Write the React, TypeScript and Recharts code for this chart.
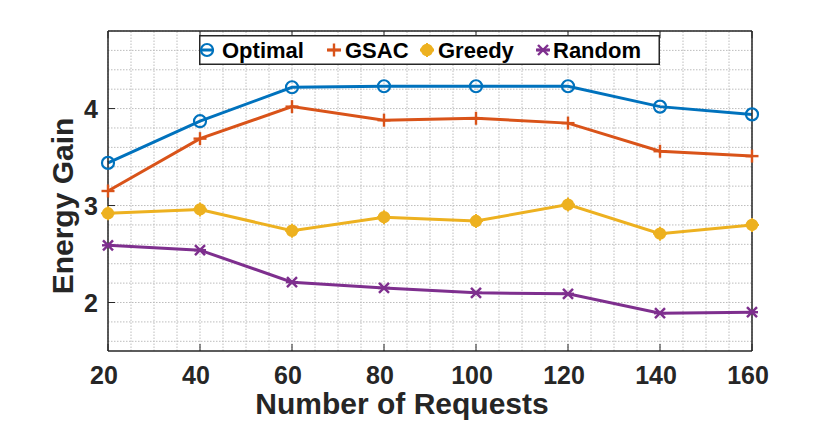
import React from 'react';
import { LineChart, Line, XAxis, YAxis, ReferenceLine, Legend, Label } from 'recharts';

const requests = [20, 40, 60, 80, 100, 120, 140, 160];
const optimal = [3.44, 3.87, 4.22, 4.23, 4.23, 4.23, 4.02, 3.94];
const gsac = [3.15, 3.69, 4.02, 3.88, 3.9, 3.85, 3.56, 3.51];
const greedy = [2.92, 2.96, 2.74, 2.88, 2.84, 3.01, 2.71, 2.8];
const random = [2.59, 2.54, 2.21, 2.15, 2.1, 2.09, 1.89, 1.9];

const xTicks = [20, 40, 60, 80, 100, 120, 140, 160];
const yTicks = [2, 3, 4];
const xGrid = [20, 25, 30, 35, 40, 45, 50, 55, 60, 65, 70, 75, 80, 85, 90, 95, 100, 105, 110, 115, 120, 125, 130, 135, 140, 145, 150, 155, 160];
const yGrid = [1.6, 1.8, 2.0, 2.2, 2.4, 2.6, 2.8, 3.0, 3.2, 3.4, 3.6, 3.8, 4.0, 4.2, 4.4, 4.6, 4.8];

const seriesNames = ['Optimal', 'GSAC', 'Greedy', 'Random'];
const seriesKeys = ['optimal', 'gsac', 'greedy', 'random'];
const seriesColors = ['#0072BD', '#D95319', '#EDB120', '#7E2F8E'];
const seriesShapes = ['circle', 'plus', 'dotstar', 'asterisk'];

const data = requests.map((r, i) => ({
  requests: r,
  optimal: optimal[i],
  gsac: gsac[i],
  greedy: greedy[i],
  random: random[i],
}));

const FONT = '"Liberation Sans", Arial, Helvetica, sans-serif';
const AXIS_COLOR = '#262626';

function Marker({ shape, cx, cy, color }: { shape: string; cx: number; cy: number; color: string }) {
  if (shape === 'circle') {
    return <circle cx={cx} cy={cy} r={6} fill="none" stroke={color} strokeWidth={2.2} />;
  }
  if (shape === 'plus') {
    return (
      <g stroke={color} strokeWidth={2.4}>
        <line x1={cx - 6.5} y1={cy} x2={cx + 6.5} y2={cy} />
        <line x1={cx} y1={cy - 6.5} x2={cx} y2={cy + 6.5} />
      </g>
    );
  }
  if (shape === 'dotstar') {
    return (
      <g stroke={color} strokeWidth={2}>
        <circle cx={cx} cy={cy} r={5.2} fill={color} />
        <line x1={cx - 7} y1={cy} x2={cx + 7} y2={cy} />
        <line x1={cx} y1={cy - 7} x2={cx} y2={cy + 7} />
      </g>
    );
  }
  return (
    <g stroke={color} strokeWidth={2.4}>
      <line x1={cx - 5} y1={cy - 5} x2={cx + 5} y2={cy + 5} />
      <line x1={cx - 5} y1={cy + 5} x2={cx + 5} y2={cy - 5} />
      <line x1={cx - 6} y1={cy} x2={cx + 6} y2={cy} />
    </g>
  );
}

const makeDot = (shape: string, color: string) => (props: any) => {
  const { cx, cy, index } = props;
  if (cx == null || cy == null) return <g key={`d-${index}`} />;
  return (
    <g key={`d-${shape}-${index}`}>
      <Marker shape={shape} cx={cx} cy={cy} color={color} />
    </g>
  );
};

const BottomTick = (props: any) => {
  const { x, y, payload } = props;
  return (
    <g>
      <line x1={x} y1={y} x2={x} y2={y - 7} stroke={AXIS_COLOR} strokeWidth={1} />
      <text x={x - 4} y={y + 24} textAnchor="middle" dominantBaseline="central" fill={AXIS_COLOR}
        style={{ fontFamily: FONT, fontWeight: 700, fontSize: 25 }}>
        {payload.value}
      </text>
    </g>
  );
};

const TopTick = (props: any) => {
  const { x, y } = props;
  return <line x1={x} y1={y} x2={x} y2={y + 7} stroke={AXIS_COLOR} strokeWidth={1} />;
};

const LeftTick = (props: any) => {
  const { x, y, payload } = props;
  return (
    <g>
      <line x1={x} y1={y} x2={x + 7} y2={y} stroke={AXIS_COLOR} strokeWidth={1} />
      <text x={x - 10} y={y} textAnchor="end" dominantBaseline="central" fill={AXIS_COLOR}
        style={{ fontFamily: FONT, fontWeight: 700, fontSize: 25 }}>
        {payload.value}
      </text>
    </g>
  );
};

const RightTick = (props: any) => {
  const { x, y } = props;
  return <line x1={x} y1={y} x2={x - 7} y2={y} stroke={AXIS_COLOR} strokeWidth={1} />;
};

const legendMarkerX = [8, 135, 228, 344];
const legendTextX = [23, 146, 239, 354];

const LegendBox = () => (
  <svg width={461} height={30} style={{ display: 'block' }}>
    <rect x={0.75} y={0.75} width={459.5} height={28.5} fill="#ffffff" stroke="#262626" strokeWidth={1.5} />
    {seriesNames.map((name, i) => (
      <g key={name}>
        <line x1={legendMarkerX[i] - 7} y1={15} x2={legendMarkerX[i] + 7} y2={15} stroke={seriesColors[i]} strokeWidth={3} />
        <Marker shape={seriesShapes[i]} cx={legendMarkerX[i]} cy={15} color={seriesColors[i]} />
        <text x={legendTextX[i]} y={15} dominantBaseline="central" fill="#000000"
          style={{ fontFamily: FONT, fontWeight: 700, fontSize: 22 }}>
          {name}
        </text>
      </g>
    ))}
  </svg>
);

export default function App() {
  return (
    <div style={{ position: 'absolute', left: 0, top: 0, width: 830, height: 427, background: '#ffffff' }}>
      <LineChart width={830} height={427} data={data} margin={{ top: 1, right: 18, bottom: 46, left: 48 }}>
        {xGrid.map((v) => (
          <ReferenceLine key={`xg-${v}`} x={v} stroke="#bdbdbd" strokeWidth={1} strokeDasharray="1.5 1.5" />
        ))}
        {yGrid.map((v) => (
          <ReferenceLine key={`yg-${v}`} y={v} stroke="#bdbdbd" strokeWidth={1} strokeDasharray="1.5 1.5" />
        ))}
        <XAxis dataKey="requests" type="number" domain={[20, 160]} ticks={xTicks} height={30}
          tickSize={0} tickMargin={0} tick={<BottomTick />} tickLine={false}
          axisLine={{ stroke: AXIS_COLOR, strokeWidth: 1.5 }} interval={0}>
          <Label content={() => (
            <text x={402} y={403} textAnchor="middle" dominantBaseline="central" fill={AXIS_COLOR}
              style={{ fontFamily: FONT, fontWeight: 700, fontSize: 30 }}>
              Number of Requests
            </text>
          )} />
        </XAxis>
        <XAxis xAxisId="top" orientation="top" dataKey="requests" type="number" domain={[20, 160]} ticks={xTicks}
          height={30} tickSize={0} tickMargin={0} tick={<TopTick />} tickLine={false}
          axisLine={{ stroke: AXIS_COLOR, strokeWidth: 1.5 }} interval={0} />
        <YAxis type="number" domain={[1.5, 4.8]} ticks={yTicks} width={60} tickSize={0} tickMargin={0}
          tick={<LeftTick />} tickLine={false} axisLine={{ stroke: AXIS_COLOR, strokeWidth: 1.5 }} interval={0}>
          <Label content={() => (
            <text transform="translate(62,206) rotate(-90)" textAnchor="middle" dominantBaseline="central" fill={AXIS_COLOR}
              style={{ fontFamily: FONT, fontWeight: 700, fontSize: 30 }}>
              Energy Gain
            </text>
          )} />
        </YAxis>
        <YAxis yAxisId="right" orientation="right" type="number" domain={[1.5, 4.8]} ticks={yTicks} width={60}
          tickSize={0} tickMargin={0} tick={<RightTick />} tickLine={false}
          axisLine={{ stroke: AXIS_COLOR, strokeWidth: 1.5 }} interval={0} />
        <Legend verticalAlign="middle" align="center" layout="horizontal" content={<LegendBox />}
          wrapperStyle={{ position: 'absolute', left: 199, top: 35, width: 461, height: 30 }} />
        {seriesKeys.map((k, i) => (
          <Line key={k} dataKey={k} name={seriesNames[i]} type="linear" stroke={seriesColors[i]} strokeWidth={3}
            dot={makeDot(seriesShapes[i], seriesColors[i])} activeDot={false} isAnimationActive={false} />
        ))}
      </LineChart>
    </div>
  );
}
